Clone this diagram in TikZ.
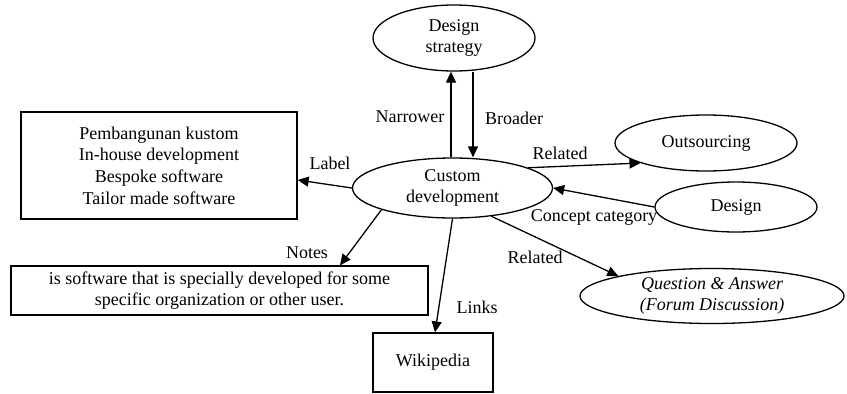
\documentclass[tikz,border=0pt]{standalone}
\usepackage{fontspec}
\setmainfont{Liberation Serif}
\usetikzlibrary{shapes.geometric,arrows.meta}
\tikzset{
  every node/.style={font=\fontsize{18}{21.6}\selectfont},
  oval/.style={draw, ellipse, line width=1.3pt, inner sep=0pt, align=center},
  boxnode/.style={draw, rectangle, line width=1.3pt, inner sep=0pt, align=center},
  conn/.style={line width=1.3pt, -{Triangle[length=11pt,width=10pt]}},
  lbl/.style={inner sep=0pt, anchor=center}
}
\begin{document}
\begin{tikzpicture}[x=1pt,y=-1pt]
\useasboundingbox (0,0) rectangle (847,394);
% ellipses
\node[oval, minimum width=162pt, minimum height=66pt] (ds) at (454,38) {Design\\strategy};
\node[oval, minimum width=200pt, minimum height=60pt] (cd) at (452.5,188) {Custom\\development};
\node[oval, minimum width=182pt, minimum height=56pt] (os) at (706,143) {Outsourcing};
\node[oval, minimum width=162pt, minimum height=50pt] (de) at (736,207) {Design};
\node[oval, minimum width=264pt, minimum height=55pt] (qa) at (712,296) {\itshape Question \& Answer\\\itshape (Forum Discussion)};
% boxes
\node[boxnode, minimum width=276pt, minimum height=107pt] (lab) at (159,165.5) {Pembangunan kustom\\In-house development\\Bespoke software\\Tailor made software};
\node[boxnode, minimum width=417pt, minimum height=49pt] (notes) at (219.5,290.5) {is software that is specially developed for some\\specific organization or other user.};
\node[boxnode, minimum width=120pt, minimum height=59pt] (wiki) at (433,362.5) {Wikipedia};
% connectors
\draw[conn] ([xshift=-1.5pt]cd.north) -- ([xshift=-3pt]ds.south);
\draw[conn] ([xshift=19pt]ds.south) -- ([xshift=20.5pt]cd.north);
\draw[conn] (cd.west) -- ([yshift=-14.5pt]lab.east);
\draw[conn] (cd.15) -- (os.197);
\draw[conn] (de.west) -- (cd.east);
\draw[conn] (cd.324) -- (qa.168);
\draw[conn] (cd.197) -- ([xshift=120.5pt]notes.north);
\draw[conn] (cd.south) -- ([xshift=2pt]wiki.north);
% labels
\node[lbl] (tnar) at (410,117) {Narrower};
\node[lbl] (tbro) at (514,118) {Broader};
\node[lbl] (tlab) at (330,163) {Label};
\node[lbl] (trel1) at (560,153) {Related};
\node[lbl] (tcc) at (594,217) {Concept category};
\node[lbl] (trel2) at (535,257) {Related};
\node[lbl] (tnot) at (307,253) {Notes};
\node[lbl] (tlin) at (477,307) {Links};
\end{tikzpicture}
\end{document}
